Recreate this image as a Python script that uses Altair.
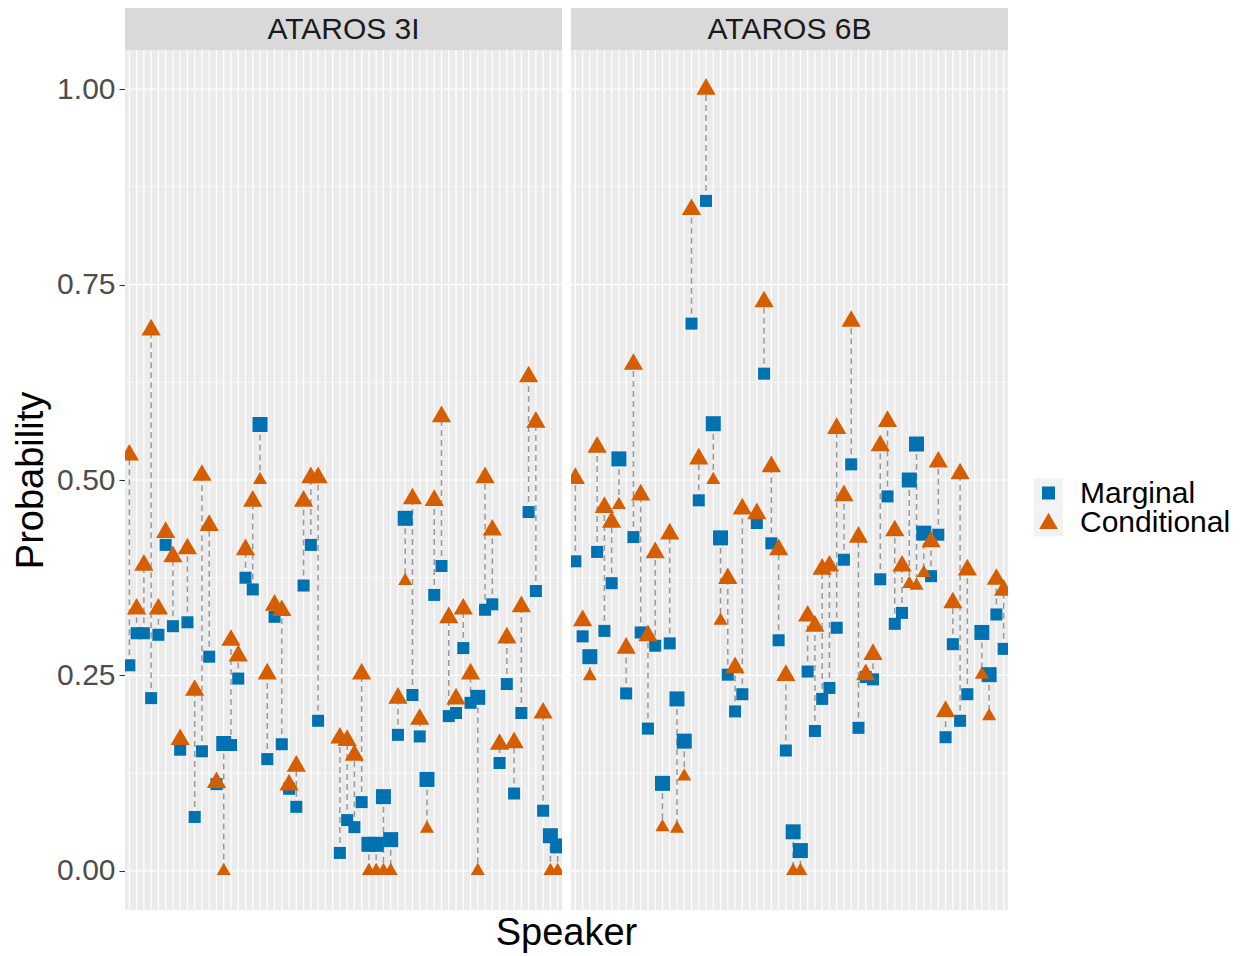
import altair as alt
import pandas as pd

# ---- data -----------------------------------------------------------------
speakers = list(range(1, 61))
tasks = ["ATAROS 3I", "ATAROS 6B"]
measures = ["Marginal", "Conditional"]
colors = ["#0072B2", "#D55E00"]

marginal_3i = [
    0.263, 0.304, 0.304, 0.221, 0.302, 0.417, 0.313, 0.155, 0.318, 0.069,
    0.153, 0.274, 0.111, 0.163, 0.161, 0.246, 0.375, 0.360, 0.571, 0.143,
    0.325, 0.162, 0.105, 0.082, 0.365, 0.417, 0.192, None, None, 0.023,
    0.065, 0.056, 0.088, 0.034, 0.034, 0.095, 0.040, 0.174, 0.451, 0.225,
    0.172, 0.117, 0.353, 0.390, 0.198, 0.202, 0.285, 0.215, 0.222, 0.334,
    0.341, 0.138, 0.239, 0.099, 0.202, 0.459, 0.358, 0.077, 0.045, 0.032,
]
conditional_3i = [
    0.532, 0.335, 0.391, 0.692, 0.335, 0.433, 0.402, 0.168, 0.412, 0.231,
    0.506, 0.442, 0.113, 0.000, 0.295, 0.275, 0.411, 0.473, 0.500, 0.252,
    0.340, 0.333, 0.110, 0.134, 0.473, 0.503, 0.503, None, None, 0.170,
    0.167, 0.148, 0.252, 0.000, 0.000, 0.000, 0.000, 0.221, 0.371, 0.476,
    0.194, 0.054, 0.474, 0.581, 0.324, 0.220, 0.335, 0.252, 0.000, 0.503,
    0.436, 0.162, 0.298, 0.164, 0.338, 0.632, 0.574, 0.202, 0.000, 0.000,
]
marginal_6b = [
    0.396, 0.300, 0.274, 0.408, 0.307, 0.368, 0.527, 0.227, 0.427, 0.305,
    0.182, 0.288, 0.112, 0.291, 0.220, 0.166, 0.700, 0.474, 0.857, 0.572,
    0.426, 0.251, 0.204, 0.226, None, 0.445, 0.636, 0.419, 0.295, 0.154,
    0.050, 0.026, 0.255, 0.179, 0.220, 0.234, 0.311, 0.398, 0.520, 0.183,
    0.248, 0.245, 0.373, 0.479, 0.316, 0.330, 0.500, 0.546, 0.432, 0.377,
    0.430, 0.171, 0.290, 0.192, 0.226, None, 0.305, 0.251, 0.328, 0.284,
]
conditional_6b = [
    0.502, 0.320, 0.249, 0.542, 0.465, 0.446, 0.468, 0.285, 0.648, 0.481,
    0.301, 0.407, 0.056, 0.431, 0.054, 0.121, 0.846, 0.527, 1.000, 0.500,
    0.320, 0.374, 0.260, 0.463, None, 0.457, 0.728, 0.517, 0.411, 0.250,
    0.000, 0.000, 0.326, 0.313, 0.386, 0.390, 0.566, 0.480, 0.703, 0.427,
    0.251, 0.277, 0.544, 0.575, 0.435, 0.390, 0.367, 0.365, 0.381, 0.421,
    0.523, 0.204, 0.343, 0.508, 0.385, None, 0.251, 0.198, 0.373, 0.359,
]

y_major = [0.0, 0.25, 0.5, 0.75, 1.0]
y_minor = [0.125, 0.375, 0.625, 0.875]

# ---- layout constants -------------------------------------------------------
FONT = "Liberation Sans"
PANEL_W, GAP, H = 437, 9, 860
EXPAND = 0.6
n = len(speakers)
span = n - 1 + 2 * EXPAND
unit = PANEL_W / span
shift = span + GAP / unit
offsets = [0.0, shift]
TOTAL_W = 2 * PANEL_W + GAP

# equilateral triangle with its centroid on the data point
TRIANGLE = "M0,-1.1547L1,0.5774L-1,0.5774Z"
shapes = ["square", TRIANGLE]
# symbol area for (lower, higher) of the pair, per measure
point_sizes = [(144, 225), (200, 370)]

# ---- tables ---------------------------------------------------------------
points, segs, vgrid, panels, hgrid = [], [], [], [], []
for task, off, marg, cond in zip(tasks, offsets,
                                 [marginal_3i, marginal_6b],
                                 [conditional_3i, conditional_6b]):
    panels.append(dict(task=task, x0=off - EXPAND, x1=off + n - 1 + EXPAND,
                       mid=off + (n - 1) / 2))
    for y in y_major:
        hgrid.append(dict(task=task, x0=off - EXPAND, x1=off + n - 1 + EXPAND, y=y, kind="major"))
    for y in y_minor:
        hgrid.append(dict(task=task, x0=off - EXPAND, x1=off + n - 1 + EXPAND, y=y, kind="minor"))
    for k, (spk, m, c) in enumerate(zip(speakers, marg, cond)):
        pos = k + off
        vgrid.append(dict(task=task, pos=pos))
        if m is None:
            continue
        segs.append(dict(task=task, speaker=spk, pos=pos, marg=m, cond=c))
        points.append(dict(task=task, speaker=spk, pos=pos, measure="Marginal",
                           value=m, higher=bool(m > c)))
        points.append(dict(task=task, speaker=spk, pos=pos, measure="Conditional",
                           value=c, higher=bool(c >= m)))

points_df = pd.DataFrame(points)
segs_df = pd.DataFrame(segs)
vgrid_df = pd.DataFrame(vgrid)
panels_df = pd.DataFrame(panels)
hgrid_df = pd.DataFrame(hgrid)
gap_df = pd.DataFrame([dict(x0=n - 1 + EXPAND, x1=shift - EXPAND)])

# ---- encodings ------------------------------------------------------------
xscale = alt.Scale(domain=[-EXPAND, shift + n - 1 + EXPAND], nice=False, zero=False)
yscale = alt.Scale(domain=[-0.05, 1.05], nice=False, zero=False)
yaxis = alt.Axis(values=y_major, format=".2f", title="Probability", grid=False,
                 domain=False, tickColor="#333333", tickSize=6, tickWidth=1.1,
                 labelFontSize=30, labelColor="#4D4D4D", labelPadding=4,
                 labelFont=FONT, titleFont=FONT, titleFontSize=38,
                 titleFontWeight="normal", titleColor="black", titlePadding=6)


def xq(field):
    return alt.X(f"{field}:Q", scale=xscale, axis=None)


def yq(field):
    return alt.Y(f"{field}:Q", scale=yscale, axis=yaxis)


base_panels = alt.Chart(panels_df)

background = base_panels.mark_rect(color="#EBEBEB").encode(
    x=xq("x0"), x2="x1", y=alt.value(0), y2=alt.value(H))

minor_grid = alt.Chart(hgrid_df).transform_filter(alt.datum.kind == "minor").mark_rule(
    color="white", strokeWidth=0.6).encode(x=xq("x0"), x2="x1", y=yq("y"))
major_grid = alt.Chart(hgrid_df).transform_filter(alt.datum.kind == "major").mark_rule(
    color="white", strokeWidth=1.2).encode(x=xq("x0"), x2="x1", y=yq("y"))
vertical_grid = alt.Chart(vgrid_df).mark_rule(color="white", strokeWidth=1.2).encode(
    x=xq("pos"), y=alt.value(0), y2=alt.value(H))

segments = alt.Chart(segs_df).mark_rule(
    color="#999999", strokeWidth=1.5, strokeDash=[6, 4]).encode(
    x=xq("pos"), y=yq("marg"), y2="cond")

# one point layer per measure (squares below triangles)
point_layers = []
for m, col, shp, (s_lo, s_hi) in zip(measures, colors, shapes, point_sizes):
    point_layers.append(
        alt.Chart(points_df).transform_filter(alt.datum.measure == m)
        .mark_point(filled=True, opacity=1, strokeWidth=0, color=col, shape=shp, clip=True)
        .encode(
            x=xq("pos"),
            y=yq("value"),
            size=alt.condition("datum.higher", alt.value(s_hi), alt.value(s_lo)),
        )
    )

gap = alt.Chart(gap_df).mark_rect(color="white").encode(
    x=xq("x0"), x2="x1", y=alt.value(0), y2=alt.value(H))

strip = base_panels.mark_rect(color="#D9D9D9").encode(
    x=xq("x0"), x2="x1", y=alt.value(-42), y2=alt.value(0))
strip_text = base_panels.mark_text(font=FONT, fontSize=30, color="#1A1A1A",
                                   baseline="middle").encode(
    x=xq("mid"), y=alt.value(-20), text="task:N")

x_title = alt.Chart(pd.DataFrame([{"t": "Speaker"}])).mark_text(
    font=FONT, fontSize=38, color="black", baseline="middle", align="center").encode(
    x=alt.value(TOTAL_W / 2), y=alt.value(H + 24), text="t:N")

# legend drawn beside the panels
legend_layers = []
legend_sizes = [170, 350]
for k, (m, col, shp, sz) in enumerate(zip(measures, colors, shapes, legend_sizes)):
    cy = 443 + 29 * k
    one = alt.Chart(pd.DataFrame([{"label": m}]))
    legend_layers += [
        one.mark_rect(color="#F2F2F2").encode(
            x=alt.value(909), x2=alt.value(938), y=alt.value(cy - 14.5), y2=alt.value(cy + 14.5)),
        one.mark_point(filled=True, opacity=1, strokeWidth=0, color=col, shape=shp, size=sz).encode(
            x=alt.value(923.5), y=alt.value(cy + (1.5 if k == 1 else 0))),
        one.mark_text(font=FONT, fontSize=30, color="black", align="left",
                      baseline="middle").encode(
            x=alt.value(955), y=alt.value(cy + 1), text="label:N"),
    ]

chart = alt.layer(
    background, minor_grid, major_grid, vertical_grid, segments, *point_layers, gap,
    strip, strip_text, x_title, *legend_layers,
).properties(
    width=TOTAL_W, height=H,
    autosize=alt.AutoSizeParams(type="none"),
    padding={"left": 125, "top": 50, "right": 1250 - 125 - TOTAL_W, "bottom": 956 - 50 - H},
    background="white",
).configure_view(stroke=None)

chart.save("out.html", embed_options={"renderer": "svg", "actions": False})
